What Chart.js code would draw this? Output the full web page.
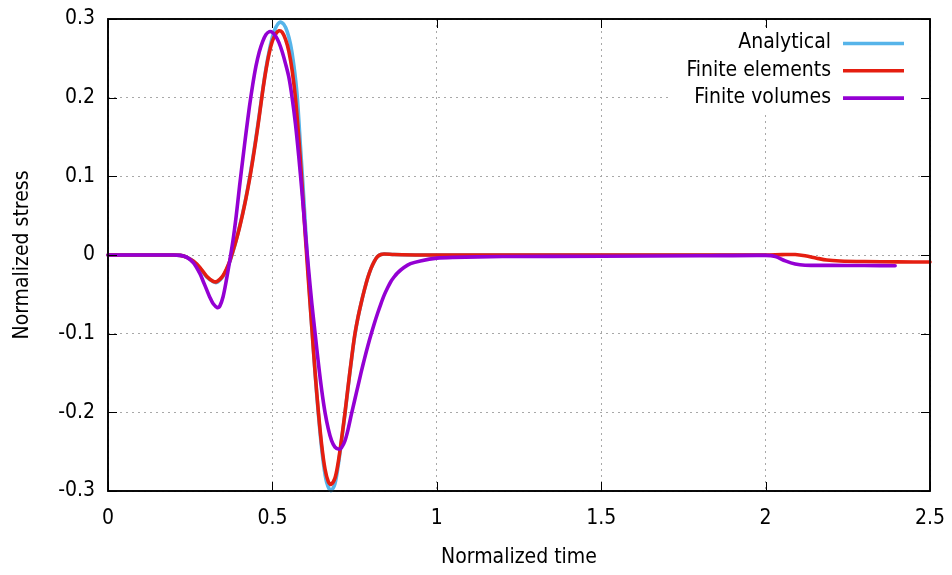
<!DOCTYPE html>
<html>
<head>
<meta charset="utf-8">
<script src="https://cdn.jsdelivr.net/npm/chart.js@4.4.1/dist/chart.umd.min.js"></script>
<style>
  html, body { margin: 0; padding: 0; background: #ffffff; }
  canvas { display: block; }
</style>
</head>
<body>
<canvas id="chart" width="952" height="575"></canvas>
<script>
// Normalized stress history at the gauge point
const analyticalT = [0, 0.20, 0.22, 0.24, 0.26, 0.28, 0.30, 0.32, 0.33, 0.34, 0.35, 0.36, 0.37, 0.38, 0.39, 0.40, 0.41, 0.42, 0.43, 0.44, 0.45, 0.46, 0.47, 0.48, 0.49, 0.50, 0.51, 0.523, 0.535, 0.545, 0.555, 0.565, 0.575, 0.585, 0.595, 0.605, 0.615, 0.625, 0.635, 0.645, 0.655, 0.665, 0.678, 0.69, 0.70, 0.71, 0.72, 0.73, 0.74, 0.75, 0.76, 0.77, 0.78, 0.79, 0.80, 0.81, 0.82, 0.83, 0.84, 0.87, 0.95, 1.5, 2.0];
const analyticalY = [0, 0, -0.0005, -0.003, -0.008, -0.017, -0.028, -0.034, -0.035, -0.032, -0.027, -0.019, -0.009, 0.004, 0.019, 0.036, 0.054, 0.074, 0.097, 0.122, 0.149, 0.178, 0.208, 0.236, 0.259, 0.277, 0.289, 0.296, 0.293, 0.284, 0.268, 0.242, 0.204, 0.140, 0.075, 0.005, -0.062, -0.122, -0.178, -0.226, -0.264, -0.289, -0.2996, -0.291, -0.268, -0.237, -0.204, -0.169, -0.135, -0.104, -0.080, -0.061, -0.044, -0.029, -0.017, -0.008, -0.002, 0.0007, 0.0012, 0.0006, 0, 0, 0];

const feT = [0, 0.20, 0.22, 0.24, 0.26, 0.28, 0.30, 0.32, 0.33, 0.34, 0.35, 0.36, 0.37, 0.38, 0.39, 0.40, 0.41, 0.42, 0.43, 0.44, 0.45, 0.46, 0.47, 0.48, 0.49, 0.50, 0.51, 0.52, 0.53, 0.54, 0.55, 0.56, 0.57, 0.58, 0.59, 0.60, 0.61, 0.62, 0.63, 0.64, 0.65, 0.66, 0.67, 0.678, 0.69, 0.70, 0.71, 0.72, 0.73, 0.74, 0.75, 0.76, 0.77, 0.78, 0.79, 0.80, 0.81, 0.82, 0.83, 0.84, 0.87, 0.95, 1.5, 2.0, 2.05, 2.09, 2.12, 2.155, 2.186, 2.226, 2.3, 2.4, 2.5];
const feY = [0, 0, -0.0005, -0.003, -0.008, -0.016, -0.027, -0.0335, -0.034, -0.031, -0.026, -0.018, -0.008, 0.005, 0.019, 0.035, 0.053, 0.073, 0.095, 0.120, 0.147, 0.176, 0.207, 0.234, 0.256, 0.272, 0.281, 0.285, 0.283, 0.274, 0.259, 0.235, 0.200, 0.150, 0.090, 0.025, -0.035, -0.093, -0.150, -0.200, -0.242, -0.272, -0.288, -0.2915, -0.284, -0.264, -0.235, -0.203, -0.168, -0.134, -0.103, -0.080, -0.061, -0.044, -0.029, -0.017, -0.008, -0.002, 0.0007, 0.0012, 0.0006, 0, 0, 0, 0.0005, 0.0006, -0.001, -0.004, -0.0064, -0.0076, -0.0083, -0.0087, -0.0089];

const fvT = [0, 0.20, 0.22, 0.24, 0.26, 0.28, 0.29, 0.30, 0.31, 0.32, 0.333, 0.34, 0.35, 0.36, 0.37, 0.38, 0.39, 0.40, 0.41, 0.42, 0.43, 0.44, 0.45, 0.46, 0.47, 0.48, 0.491, 0.50, 0.51, 0.52, 0.53, 0.54, 0.55, 0.56, 0.57, 0.58, 0.59, 0.60, 0.61, 0.62, 0.63, 0.64, 0.65, 0.66, 0.67, 0.68, 0.69, 0.703, 0.71, 0.72, 0.73, 0.74, 0.75, 0.76, 0.77, 0.78, 0.79, 0.80, 0.81, 0.82, 0.83, 0.84, 0.85, 0.86, 0.87, 0.88, 0.90, 0.92, 0.95, 1.0, 1.05, 1.2, 1.5, 1.8, 2.0, 2.03, 2.06, 2.09, 2.12, 2.2, 2.3, 2.394];
const fvY = [0, 0, -0.0005, -0.003, -0.010, -0.024, -0.034, -0.044, -0.054, -0.062, -0.067, -0.065, -0.053, -0.032, -0.008, 0.018, 0.050, 0.087, 0.122, 0.156, 0.188, 0.216, 0.240, 0.258, 0.271, 0.280, 0.284, 0.283, 0.278, 0.270, 0.258, 0.243, 0.226, 0.200, 0.167, 0.126, 0.080, 0.030, -0.018, -0.062, -0.100, -0.138, -0.172, -0.200, -0.221, -0.236, -0.244, -0.247, -0.245, -0.237, -0.222, -0.203, -0.185, -0.167, -0.149, -0.132, -0.116, -0.101, -0.087, -0.074, -0.062, -0.051, -0.042, -0.034, -0.028, -0.023, -0.016, -0.011, -0.0075, -0.004, -0.003, -0.002, -0.0015, -0.001, -0.0005, -0.002, -0.0075, -0.0115, -0.013, -0.0132, -0.0134, -0.0136];

const seriesNames = ['Analytical', 'Finite elements', 'Finite volumes'];
const seriesColors = ['#56b4e9', '#e51e10', '#9400d3'];

const xTickValues = [0, 0.5, 1, 1.5, 2, 2.5];
const yTickValues = [-0.3, -0.2, -0.1, 0, 0.1, 0.2, 0.3];

const FONT_FAMILY = "'DejaVu Sans Condensed', 'DejaVu Sans', sans-serif";
const FONT_SIZE = 21;

function toPoints(ts, ys) {
  return ts.map((t, i) => ({ x: t, y: ys[i] }));
}

function fmt(v) {
  const r = Math.round(v * 10) / 10;
  return r === 0 ? '0' : String(r);
}

// Frame with inward ticks on all four sides
function drawFrame(chart) {
  const { ctx, chartArea: a, scales } = chart;
  const tl = 9;
  ctx.save();
  ctx.strokeStyle = '#000000';
  ctx.lineWidth = 1;
  ctx.beginPath();
  xTickValues.forEach(v => {
    const px = Math.round(scales.x.getPixelForValue(v)) + 0.5;
    ctx.moveTo(px, a.bottom); ctx.lineTo(px, a.bottom - tl);
    ctx.moveTo(px, a.top); ctx.lineTo(px, a.top + tl);
  });
  yTickValues.forEach(v => {
    const py = Math.round(scales.y.getPixelForValue(v)) + 0.5;
    ctx.moveTo(a.left, py); ctx.lineTo(a.left + tl, py);
    ctx.moveTo(a.right, py); ctx.lineTo(a.right - tl, py);
  });
  ctx.stroke();
  ctx.lineWidth = 1.6;
  ctx.strokeRect(a.left, a.top, a.right - a.left, a.bottom - a.top);
  ctx.restore();
}

const framePlugin = {
  id: 'frame',
  beforeDatasetsDraw(chart) { drawFrame(chart); },
  afterDatasetsDraw(chart) {
    const { ctx } = chart;
    // opaque key in the upper right corner
    ctx.save();
    ctx.fillStyle = '#ffffff';
    ctx.fillRect(672, 29, 254, 82);
    ctx.font = FONT_SIZE + 'px ' + FONT_FAMILY;
    ctx.textAlign = 'right';
    ctx.textBaseline = 'middle';
    ctx.fillStyle = '#000000';
    chart.data.datasets.forEach((ds, i) => {
      const y = 43 + 27.3 * i;
      ctx.fillText(ds.label, 831, y);
      ctx.strokeStyle = ds.borderColor;
      ctx.lineWidth = 3.6;
      ctx.beginPath();
      ctx.moveTo(843, y + 0.5);
      ctx.lineTo(904, y + 0.5);
      ctx.stroke();
    });
    ctx.restore();
    drawFrame(chart);
  }
};

const tickFont = { family: FONT_FAMILY, size: FONT_SIZE };

new Chart(document.getElementById('chart'), {
  type: 'line',
  data: {
    datasets: [
      { label: seriesNames[0], data: toPoints(analyticalT, analyticalY), borderColor: seriesColors[0], order: 3 },
      { label: seriesNames[1], data: toPoints(feT, feY), borderColor: seriesColors[1], order: 2 },
      { label: seriesNames[2], data: toPoints(fvT, fvY), borderColor: seriesColors[2], order: 1 }
    ]
  },
  options: {
    responsive: false,
    animation: false,
    devicePixelRatio: 1,
    layout: { padding: { top: 19, right: 22, left: 0, bottom: 0 } },
    elements: {
      line: { borderWidth: 3.6, tension: 0.3, borderCapStyle: 'round', borderJoinStyle: 'round', fill: false },
      point: { radius: 0, hoverRadius: 0 }
    },
    datasets: { line: { clip: 6 } },
    plugins: { legend: { display: false }, tooltip: { enabled: false } },
    scales: {
      x: {
        type: 'linear',
        min: 0, max: 2.5,
        afterBuildTicks(scale) { scale.ticks = xTickValues.map(v => ({ value: v })); },
        afterFit(scale) { scale.height = 84; scale.paddingLeft = 0; scale.paddingRight = 0; },
        ticks: { font: tickFont, color: '#000000', padding: 15, maxRotation: 0, autoSkip: false, callback: v => fmt(v) },
        grid: { color: '#a8a8a8', lineWidth: 1, drawTicks: false },
        border: { display: false, dash: [2, 4] },
        title: { display: true, text: 'Normalized time', font: tickFont, color: '#000000', padding: { top: 0, bottom: 5 } }
      },
      y: {
        type: 'linear',
        min: -0.3, max: 0.3,
        afterBuildTicks(scale) { scale.ticks = yTickValues.map(v => ({ value: v })); },
        afterFit(scale) { scale.width = 108; scale.paddingTop = 0; scale.paddingBottom = 0; },
        ticks: { font: tickFont, color: '#000000', padding: 13, autoSkip: false, callback: v => fmt(v) },
        grid: { color: '#a8a8a8', lineWidth: 1, drawTicks: false },
        border: { display: false, dash: [2, 4] },
        title: { display: true, text: 'Normalized stress', font: tickFont, color: '#000000', padding: { top: 10, bottom: 0 } }
      }
    }
  },
  plugins: [framePlugin]
});
</script>
</body>
</html>
